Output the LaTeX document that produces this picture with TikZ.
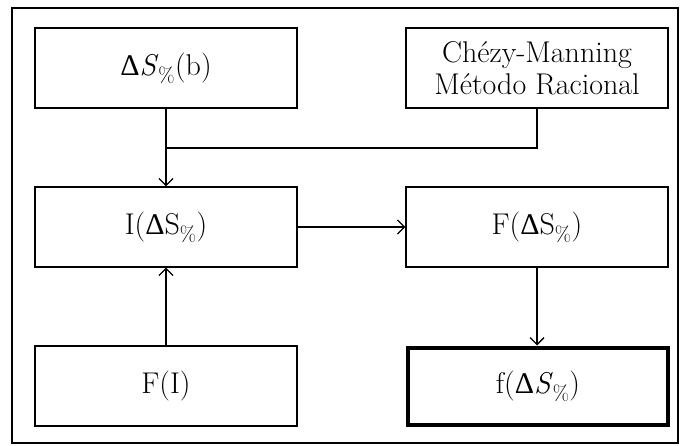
\documentclass[tikz,border=0pt]{standalone}
\usepackage{fontspec}
\newfontfamily\grk{Liberation Serif}
\usetikzlibrary{arrows.meta}

\newcommand{\dS}[1]{{\grk Δ}#1\textsubscript{\%}}

\tikzset{
  block/.style={draw, line width=1.3pt, minimum width=262pt, minimum height=80pt, inner sep=0pt, align=center, font=\fontsize{30}{32}\selectfont},
  goal/.style={block, line width=4pt, minimum width=260pt, minimum height=77pt},
  link/.style={line width=1.3pt, -{Straight Barb[length=7pt,width=14pt,line width=1.3pt]}}
}

\begin{document}
\begin{tikzpicture}[x=1pt, y=1pt]
	\useasboundingbox (0,0) rectangle (680,445);
	\draw[line width=1.5pt] (12,2) rectangle (678,437);

	\node[block] (db) at (166, 377) {\dS{\textit{S}}(b)};
	\node[block] (cm) at (537, 377) {Chézy-Manning\\Método Racional};
	\node[block] (ids) at (166, 218) {I(\dS{S})};
	\node[block] (fds) at (537, 218) {F(\dS{S})};
	\node[block] (fi) at (166, 59) {F(I)};
	\node[goal] (res) at (538, 59) {f(\dS{\textit{S}})};

	\coordinate (join) at (166, 297);

	\draw[link] (db) -- (ids);
	\draw[line width=1.3pt] (cm.south) |- (join);
	\draw[link] (fi) -- (ids);
	\draw[link] (ids) -- (fds);
	\draw[link] (fds.south) -- (fds.south |- res.north);
\end{tikzpicture}
\end{document}
